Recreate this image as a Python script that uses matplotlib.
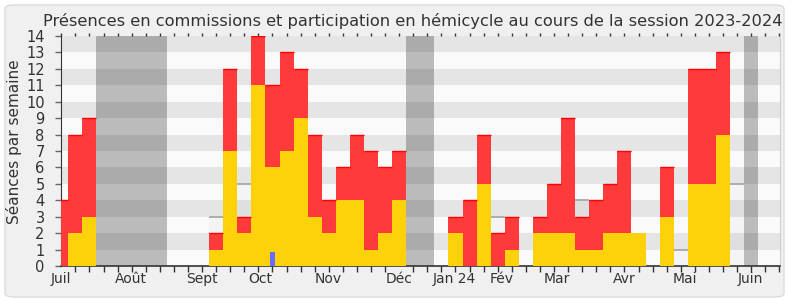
import matplotlib
matplotlib.use('Agg')
import matplotlib.pyplot as plt
from matplotlib.patches import FancyBboxPatch
import numpy as np

# ---- data (one value per week, week 0 = début juillet 2023) ----
hemicycle = [0, 2, 3, 0, 0, 0, 0, 0, 0, 0,
             0, 1, 7, 2, 11, 6, 7, 9, 3, 2,
             4, 4, 1, 2, 4, 0, 0, 0, 2, 0,
             5, 0, 1, 0, 2, 2, 2, 1, 1, 2,
             2, 2, 0, 3, 0, 5, 5, 8, 0, 0,
             0, 0]
commission = [4, 6, 6, 0, 0, 0, 0, 0, 0, 0,
              0, 1, 5, 1, 3, 5, 6, 3, 5, 2,
              2, 4, 6, 4, 3, 0, 0, 0, 1, 4,
              3, 2, 2, 0, 1, 3, 7, 2, 3, 3,
              5, 0, 0, 3, 0, 7, 7, 5, 0, 0,
              0, 0]
questions = [0] * 52
questions[15] = 0.87
mediane = [0] * 52
for wk, val in [(11, 3), (13, 5), (31, 3), (37, 4), (44, 1), (48, 5)]:
    mediane[wk] = val
vacances = [(2.5, 7.5), (24.5, 26.5), (48.5, 49.5)]
month_labels = ['Juil', 'Août', 'Sept', 'Oct', 'Nov', 'Déc', 'Jan 24',
                'Fév', 'Mar', 'Avr', 'Mai', 'Juin']
month_pos = [0, 4.95, 9.96, 14.16, 18.99, 24.0, 27.95, 31.25, 35.21,
             39.98, 44.26, 48.98]
y_ticks = list(range(0, 15))

plt.rcParams['font.family'] = ['DejaVu Sans']

fig = plt.figure(figsize=(7.9, 3.0), dpi=100)
fig.patch.set_facecolor('white')
bg = FancyBboxPatch((5 / 790, 3 / 300), 779 / 790, 292 / 300,
                    boxstyle='round,pad=0,rounding_size=0.012',
                    transform=fig.transFigure, facecolor='#f0f0f0',
                    edgecolor='#dcdcdc', linewidth=1.0, zorder=-10)
fig.patches.append(bg)

ax = fig.add_axes([61.3 / 790, 34 / 300, (780 - 61.3) / 790, 230 / 300])
ax.set_facecolor('#fafafa')

weeks = np.arange(len(hemicycle))
hem = np.array(hemicycle, dtype=float)
com = np.array(commission, dtype=float)
med = np.array(mediane, dtype=float)
qst = np.array(questions, dtype=float)

# stripes
for k in range(1, 14, 2):
    ax.axhspan(k, k + 1, color='#e5e5e5', zorder=0, lw=0)

# median (background)
ax.bar(weeks, med, width=1.0, color='black', alpha=0.025, zorder=1, lw=0)
nz = med > 0
ax.hlines(med[nz], weeks[nz] - 0.5, weeks[nz] + 0.5, color='#a8a8a8', lw=1.3, zorder=1.5)

# vacation periods
for a, b in vacances:
    ax.axvspan(a, b, color='black', alpha=0.25, zorder=2, lw=0)

# bars
ax.bar(weeks, hem, width=1.0, color='#FDD20B', zorder=3, lw=0)
ax.bar(weeks, com, width=1.0, bottom=hem, color='#FF3A3A', zorder=3, lw=0)
tot = hem + com
nzc = com > 0
ax.hlines(tot[nzc], weeks[nzc] - 0.5, weeks[nzc] + 0.5, color='#ff0000', lw=1.0, zorder=3.5)
nzq = qst > 0
ax.bar(weeks[nzq], qst[nzq], width=0.33, color='#6b6bff', zorder=4, lw=0)

ax.set_xlim(0, 51.05)
ax.set_ylim(0, 14)

# axes styling
ax.spines['top'].set_visible(False)
ax.spines['right'].set_color('#d0d0d0')
ax.spines['left'].set_color('#333333')
ax.spines['bottom'].set_color('#333333')
ax.spines['bottom'].set_linewidth(1.2)

ax.set_yticks(y_ticks)
ax.set_yticklabels([str(v) for v in y_ticks])
ax.tick_params(axis='y', length=4, width=1, color='#666666', labelsize=10.5,
               labelcolor='#333333', pad=8)

ax.set_xticks(month_pos)
ax.set_xticklabels(month_labels)
ax.set_xticks(weeks, minor=True)
ax.tick_params(axis='x', which='major', length=0, labelsize=10,
               labelcolor='#333333', pad=4)
ax.tick_params(axis='x', which='minor', length=4, width=1, color='#333333')

sec = ax.secondary_xaxis('top')
sec.set_xticks([])
sec.set_xticks(weeks, minor=True)
sec.tick_params(which='minor', length=2, width=1, color='#333333')
sec.spines['top'].set_visible(False)

fig.text(413 / 790, 1 - 26 / 300,
         'Présences en commissions et participation en hémicycle au cours de la session 2023-2024',
         ha='center', va='baseline', fontsize=11.7, color='#333333')
fig.text(14 / 790, 1 - 142 / 300, 'Séances par semaine', rotation=90,
         ha='center', va='center', fontsize=11, color='#333333')

fig.savefig('out.png', dpi=100, facecolor=fig.get_facecolor())
